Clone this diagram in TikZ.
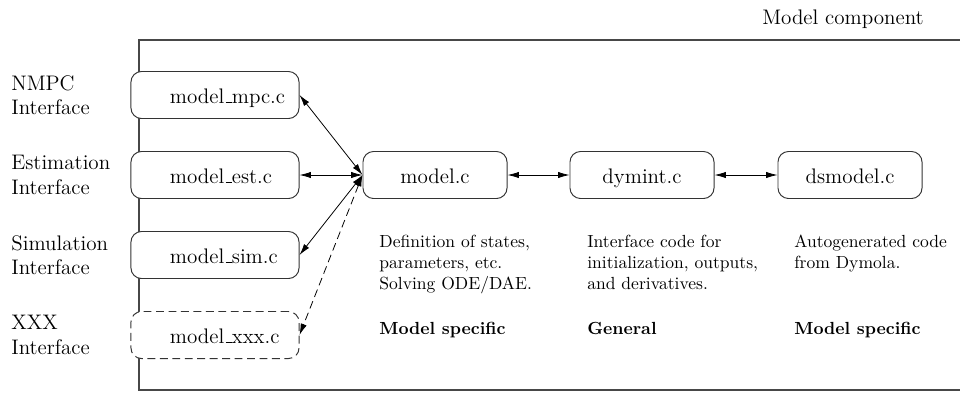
\documentclass[tikz,border=0pt]{standalone}
\usetikzlibrary{arrows.meta}
% short baseline rule for file names
\newcommand{\fus}{\leavevmode\kern.06em\vbox{\hrule width.3em}}
\begin{document}
\begin{tikzpicture}[x=0.57pt, y=-0.57pt,
  frame/.style={draw=black!72, line width=0.65pt},
  filebox/.style={draw=black!80, line width=0.55pt, fill=white, rounded corners=6pt,
    minimum height=26.8pt, text height=10pt, text depth=0.8pt, font=\large},
  corebox/.style={filebox, minimum width=82.1pt},
  ifacebox/.style={filebox, text width=91.8pt, inner xsep=2pt, align=left,
    execute at begin node=\hspace*{20.2pt}},
  ifacelabel/.style={anchor=west, inner sep=0pt, align=left, font=\large},
  note/.style={anchor=north west, inner sep=0pt, align=left},
  kind/.style={anchor=base west, inner sep=0pt, font=\bfseries},
  link/.style={<->, >={Latex[length=6.5pt, width=3.6pt]}, line width=0.45pt},
]
\useasboundingbox (0,0) rectangle (960,392);

% component frame, open on the right
\draw[frame] (960,40) -- (139,40) -- (139,390) -- (960,390);
\node[anchor=base, inner sep=0pt, font=\large] (title) at (843,24) {Model component};

% interface files
\node[ifacebox] (mpc) at (215,95)  {model\fus mpc.c};
\node[ifacebox] (est) at (215,175) {model\fus est.c};
\node[ifacebox] (sim) at (215,255) {model\fus sim.c};
\node[ifacebox, dashed, dash pattern=on 4.5pt off 2.6pt] (xxx) at (215,335) {model\fus xxx.c};

\node[ifacelabel] (lmpc) at (11,95)  {NMPC\\Interface};
\node[ifacelabel] (lest) at (11,175) {Estimation\\Interface};
\node[ifacelabel] (lsim) at (11,255) {Simulation\\Interface};
\node[ifacelabel] (lxxx) at (11,335) {XXX\\Interface};

% core files
\node[corebox] (model)  at (435,175) {model.c};
\node[corebox] (dymint) at (642,175) {dymint.c};
\node[corebox] (ds)     at (850,175) {dsmodel.c};

% connections
\draw[link] (model.west) -- (mpc.east);
\draw[link] (model.west) -- (est.east);
\draw[link] (model.west) -- (sim.east);
\draw[link, dashed, dash pattern=on 4.5pt off 2.6pt] (model.west) -- (xxx.east);
\draw[link] (model.east) -- (dymint.west);
\draw[link] (dymint.east) -- (ds.west);

% descriptions
\node[note] (dmodel)  at (379,235) {Definition of states,\\parameters, etc.\\Solving ODE/DAE.};
\node[note] (ddymint) at (587,235) {Interface code for\\initialization, outputs,\\and derivatives.};
\node[note] (dds)     at (794,235) {Autogenerated code\\from Dymola.};

\node[kind] (kmodel)  at (379,334) {Model specific};
\node[kind] (kdymint) at (587,334) {General};
\node[kind] (kds)     at (794,334) {Model specific};
\end{tikzpicture}
\end{document}
